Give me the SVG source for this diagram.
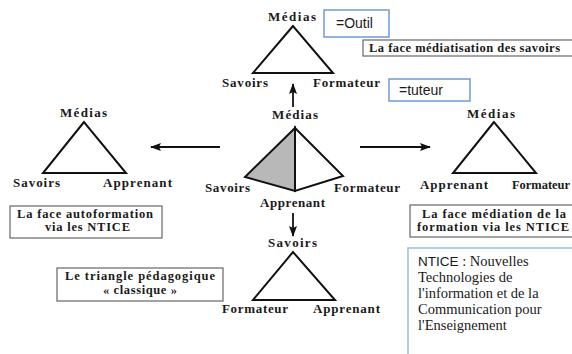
<svg xmlns="http://www.w3.org/2000/svg" width="572" height="354" viewBox="0 0 572 354">
<defs>
<style>
.lbl{font-family:"Liberation Serif","Times New Roman",serif;font-weight:bold;font-size:13px;fill:#1a1a1a}
.box{font-family:"Liberation Serif","Times New Roman",serif;font-weight:bold;font-size:12.5px;fill:#1a1a1a}
.tri{fill:#fff;stroke:#111;stroke-width:2;stroke-linejoin:miter}
.gbox{fill:#fff;stroke:#666;stroke-width:1.2}
.bbox{fill:#fff;stroke:#6f9bd6;stroke-width:1.5}
.sans{font-family:"Liberation Sans",Arial,sans-serif;font-size:14px;fill:#1a1a1a}
.note{font-family:"Liberation Serif","Times New Roman",serif;font-size:14.5px;fill:#1a1a1a}
.arr{stroke:#111;stroke-width:1.8;fill:none}
</style>
<marker id="ah" markerWidth="11" markerHeight="8" refX="10" refY="4" orient="auto" markerUnits="userSpaceOnUse">
<path d="M0,0 L11,4 L0,8 L2,4 Z" fill="#111"/>
</marker>
</defs>
<rect width="572" height="354" fill="#fff"/>

<g id="connectors">
<line class="arr" x1="293" y1="107" x2="293" y2="84" marker-end="url(#ah)"/>
<line class="arr" x1="220" y1="147" x2="151" y2="147" marker-end="url(#ah)"/>
<line class="arr" x1="360" y1="147" x2="430" y2="147" marker-end="url(#ah)"/>
<line class="arr" x1="293" y1="213" x2="293" y2="236" marker-end="url(#ah)"/>
</g>

<g id="top-triangle">
<polygon class="tri" points="293,26 253,73 333,73"/>
<text class="lbl" x="268" y="21" textLength="48" lengthAdjust="spacing">Médias</text>
<text class="lbl" x="222" y="87" textLength="46" lengthAdjust="spacing">Savoirs</text>
<text class="lbl" x="313" y="87" textLength="67" lengthAdjust="spacing">Formateur</text>
</g>

<g id="outil">
<rect class="bbox" x="324" y="10" width="65" height="27"/>
<text class="sans" x="336" y="28">=Outil</text>
</g>

<g id="face-mediatisation">
<rect class="gbox" x="363" y="40" width="215" height="16"/>
<text class="box" x="369" y="52" textLength="191" lengthAdjust="spacing">La face médiatisation des savoirs</text>
</g>

<g id="tuteur">
<rect class="bbox" x="389" y="79" width="81" height="22"/>
<text class="sans" x="399" y="95">=tuteur</text>
</g>

<g id="left-triangle">
<polygon class="tri" points="84,122 43,173 126,173"/>
<text class="lbl" x="60" y="117" textLength="47" lengthAdjust="spacing">Médias</text>
<text class="lbl" x="13" y="187" textLength="47" lengthAdjust="spacing">Savoirs</text>
<text class="lbl" x="103" y="187" textLength="69" lengthAdjust="spacing">Apprenant</text>
</g>

<g id="face-autoformation">
<rect class="gbox" x="10" y="206" width="152" height="32"/>
<text class="box" x="17" y="218" textLength="136" lengthAdjust="spacing">La face autoformation</text>
<text class="box" x="45" y="231" textLength="85" lengthAdjust="spacing">via les NTICE</text>
</g>

<g id="pyramid">
<polygon points="295,128 245,177 295,191" fill="#b8b8b8" stroke="#111" stroke-width="2" stroke-linejoin="miter"/>
<polygon points="295,128 343,176 295,191" fill="#fff" stroke="#111" stroke-width="2" stroke-linejoin="miter"/>
<text class="lbl" x="272" y="119" textLength="46" lengthAdjust="spacing">Médias</text>
<text class="lbl" x="205" y="192" textLength="45" lengthAdjust="spacing">Savoirs</text>
<text class="lbl" x="334" y="192" textLength="66" lengthAdjust="spacing">Formateur</text>
<text class="lbl" x="260" y="207" textLength="65" lengthAdjust="spacing">Apprenant</text>
</g>

<g id="right-triangle">
<polygon class="tri" points="494,122 453,173 536,173"/>
<text class="lbl" x="467" y="118" textLength="48" lengthAdjust="spacing">Médias</text>
<text class="lbl" x="420" y="189" textLength="68" lengthAdjust="spacing">Apprenant</text>
<text class="lbl" x="512" y="189" textLength="58" lengthAdjust="spacingAndGlyphs">Formateur</text>
</g>

<g id="face-mediation">
<rect class="gbox" x="410" y="205" width="168" height="32"/>
<text class="box" x="422" y="218" textLength="144" lengthAdjust="spacing">La face médiation de la</text>
<text class="box" x="417" y="231" textLength="152" lengthAdjust="spacing">formation via les NTICE</text>
</g>

<g id="bottom-triangle">
<polygon class="tri" points="293,252 253,300 335,300"/>
<text class="lbl" x="268" y="247" textLength="49" lengthAdjust="spacing">Savoirs</text>
<text class="lbl" x="222" y="313" textLength="66" lengthAdjust="spacing">Formateur</text>
<text class="lbl" x="313" y="313" textLength="67" lengthAdjust="spacing">Apprenant</text>
</g>

<g id="triangle-classique">
<rect class="gbox" x="57" y="268" width="166" height="33"/>
<text class="box" x="65" y="280" textLength="150" lengthAdjust="spacing">Le triangle pédagogique</text>
<text class="box" x="103" y="294" textLength="74" lengthAdjust="spacing">« classique »</text>
</g>

<g id="ntice-note">
<rect x="408" y="248" width="175" height="115" fill="#fff" stroke="#9dbbe3" stroke-width="1.5"/>
<text class="note" x="418" y="266"><tspan font-family="Liberation Sans, Arial, sans-serif" font-size="13.5">NTICE</tspan> : Nouvelles</text>
<text class="note" x="418" y="282">Technologies de</text>
<text class="note" x="418" y="298">l'information et de la</text>
<text class="note" x="418" y="314">Communication pour</text>
<text class="note" x="418" y="330">l'Enseignement</text>
</g>
</svg>
